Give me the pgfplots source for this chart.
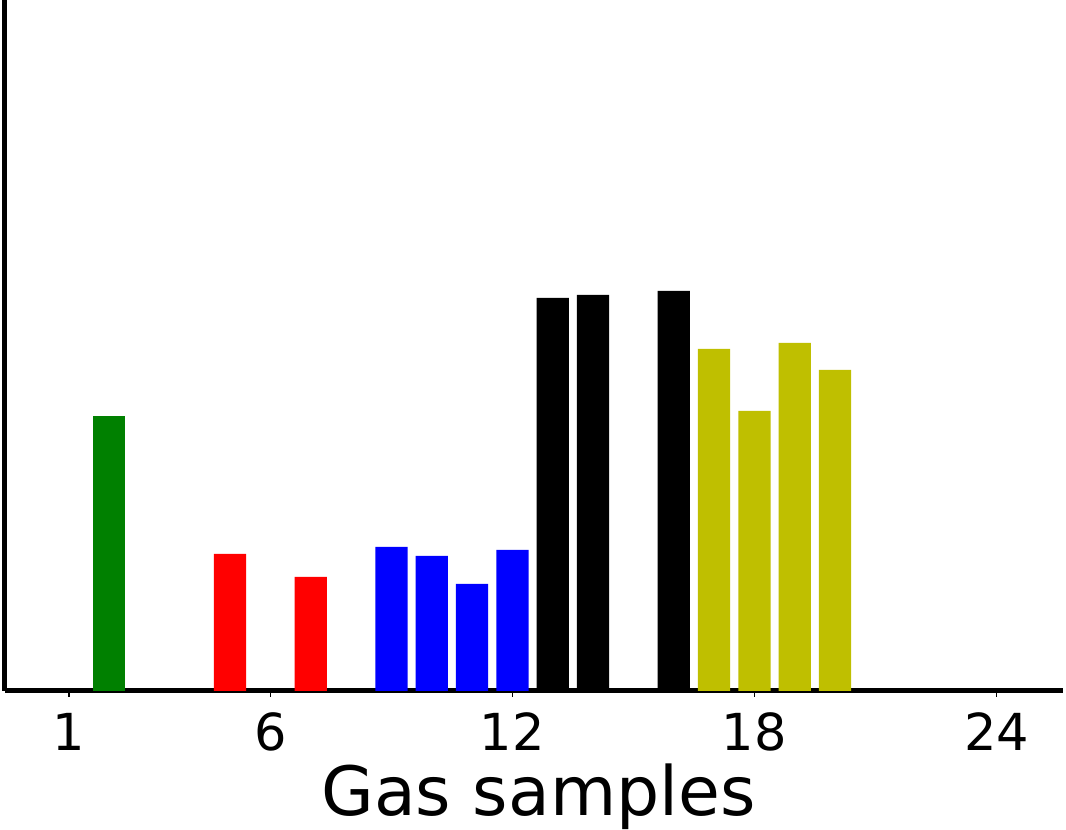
\documentclass[border=0pt]{standalone}
\usepackage{pgfplots}
\pgfplotsset{compat=1.18}
\usepackage{fontspec}
\setmainfont{DejaVu Sans}
\definecolor{mgreen}{RGB}{0,128,0}
\definecolor{molive}{RGB}{191,191,0}
\begin{document}
\begin{tikzpicture}
\begin{axis}[
  scale only axis, width=529.25pt, height=345.5pt,
  xmin=-0.592, xmax=25.65, ymin=0, ymax=691,
  axis x line*=bottom, axis y line*=left,
  axis line style={line width=2.5pt, -},
  ytick=\empty,
  xtick={1,6,12,18,24},
  xtick style={line width=0.8pt, black},
  tick align=outside, major tick length=3pt,
  xticklabel style={font=\fontsize{25.5}{25.5}\selectfont, anchor=base, yshift=-26.5pt, inner sep=0pt},
  /pgf/number format/assume math mode=true,
  xlabel={Gas samples},
  xlabel style={font=\fontsize{34}{34}\selectfont, at={(axis description cs:0.5,0)}, anchor=base, yshift=-62pt, xshift=2.4pt, inner sep=0pt},
  ybar, bar width=0.8, bar shift=0pt,
  clip=false,
]
\addplot[draw=none, fill=mgreen] coordinates {(2,275)};
\addplot[draw=none, fill=red] coordinates {(5,137) (7,114)};
\addplot[draw=none, fill=blue] coordinates {(9,144) (10,135) (11,107) (12,141)};
\addplot[draw=none, fill=black] coordinates {(13,393) (14,396) (16,400)};
\addplot[draw=none, fill=molive] coordinates {(17,342) (18,280) (19,348) (20,321)};
\end{axis}
\pgfresetboundingbox
\path (-2.25pt,-69.5pt) rectangle (530.75pt,345.5pt);
\end{tikzpicture}
\end{document}
